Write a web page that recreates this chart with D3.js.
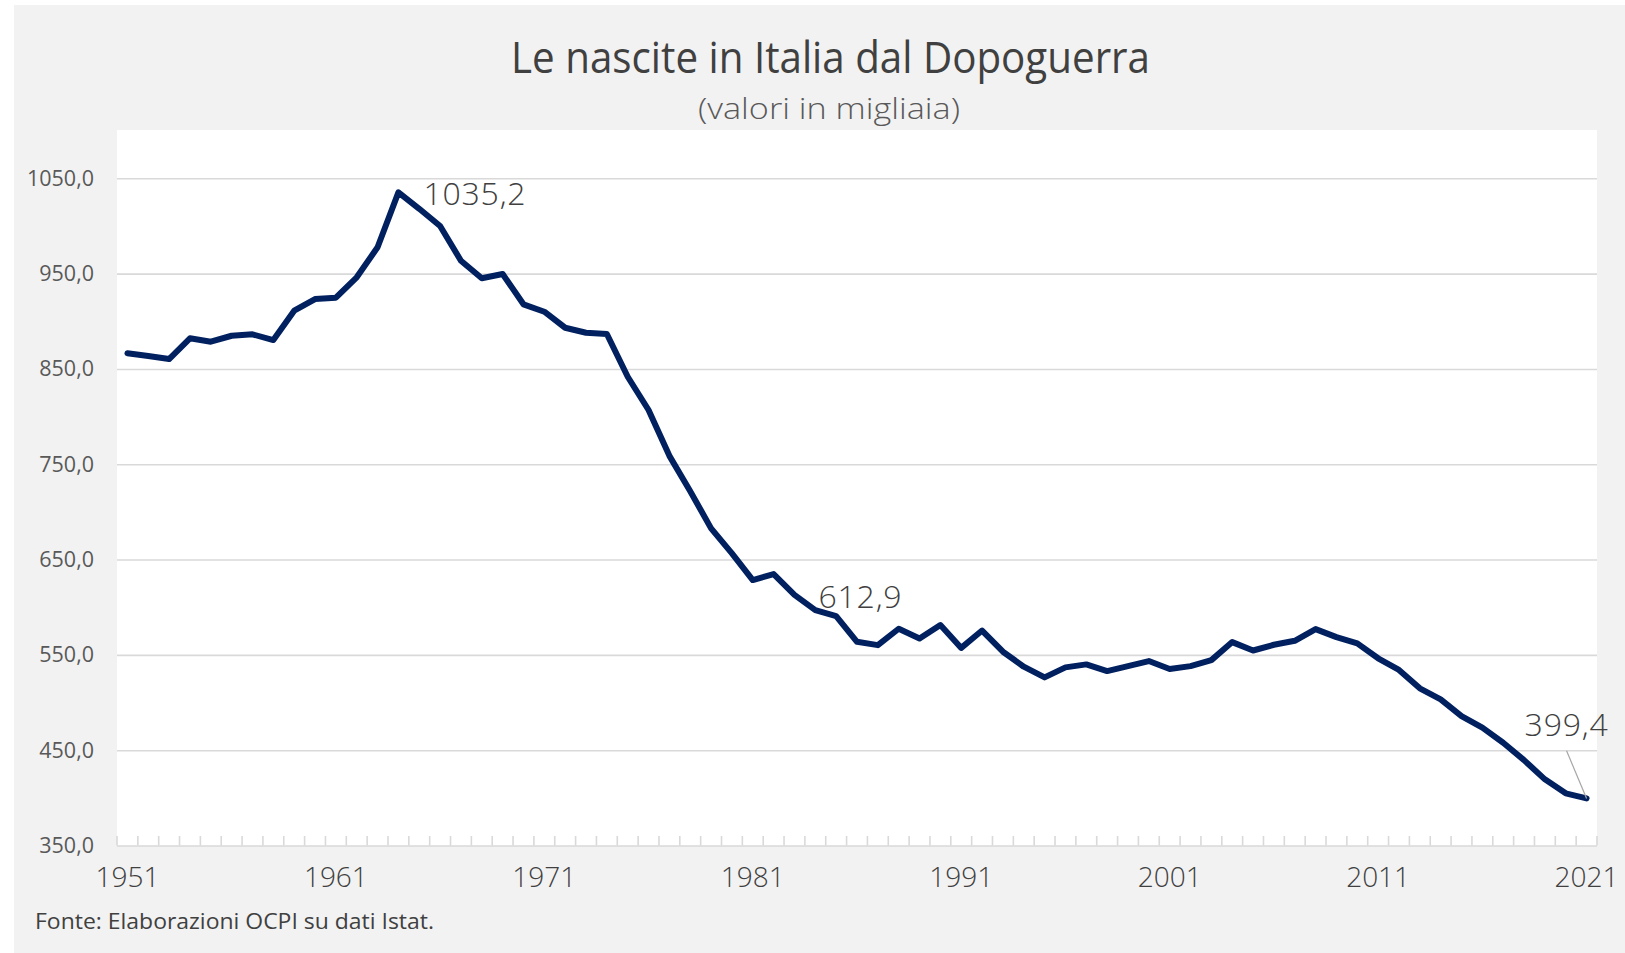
<!DOCTYPE html>
<html>
<head>
<meta charset="utf-8">
<script src="https://cdn.jsdelivr.net/npm/d3@7"></script>
<style>
    body { margin: 0; background: #ffffff; }
    svg { display: block; }
    text { font-family: "Open Sans", "Noto Sans", sans-serif; }
</style>
</head>
<body>
<div id="chart"></div>
<script>
var years = d3.range(1951, 2022);

var births = [
    866.4, 863.5, 860.4, 882.1, 878.6, 884.8, 886.3, 880.3, 911.1, 923.3,
    924.7, 946.1, 977.6, 1035.2, 1018.0, 1000.0, 963.5, 945.1, 949.6, 917.8,
    910.0, 893.2, 888.0, 886.6, 841.8, 806.9, 758.8, 721.7, 682.7, 656.5,
    628.5, 634.8, 612.9, 597.0, 590.7, 563.7, 560.2, 577.4, 567.2, 581.3,
    557.3, 575.5, 553.3, 537.6, 526.4, 536.9, 540.0, 533.0, 538.2, 543.5,
    535.1, 538.2, 544.5, 563.4, 554.6, 560.6, 564.8, 577.0, 568.6, 562.1,
    546.4, 534.2, 514.9, 503.3, 485.8, 473.6, 457.8, 439.6, 419.4, 404.7,
    399.4
];

var x_tick_labels = [1951, 1961, 1971, 1981, 1991, 2001, 2011, 2021];
var y_tick_values = [350, 450, 550, 650, 750, 850, 950, 1050];
var labelled_years = [1964, 1983, 2021];

var title = "Le nascite in Italia dal Dopoguerra";
var subtitle = "(valori in migliaia)";
var source = "Fonte: Elaborazioni OCPI su dati Istat.";

var width = 1625, height = 953;
var plot = {left: 117, right: 1597, top: 130, bottom: 845.5};

var it = d3.formatLocale({decimal: ",", thousands: ".", grouping: [3], currency: ["", "€"]});
var fmt = it.format(".1f");

var data = years.map(function(y, i){ return {year: y, value: births[i]}; });

var svg = d3.select("#chart").append("svg")
    .attr("width", width)
    .attr("height", height);

svg.append("rect")
    .attr("x", 14).attr("y", 5)
    .attr("width", width - 14).attr("height", height - 5)
    .attr("fill", "#f2f2f2");

svg.append("rect")
    .attr("x", plot.left).attr("y", plot.top)
    .attr("width", plot.right - plot.left).attr("height", plot.bottom - plot.top + 0.5)
    .attr("fill", "#ffffff");

var x = d3.scaleBand()
    .domain(years)
    .range([plot.left, plot.right])
    .paddingInner(0).paddingOuter(0);

var y = d3.scaleLinear()
    .domain([350, 1050])
    .range([plot.bottom, 178.3]);

var cx = function(year){ return x(year) + x.bandwidth() / 2; };

// gridlines
var grid = svg.append("g")
    .attr("transform", "translate(" + plot.left + ",0)")
    .call(d3.axisLeft(y).tickValues(y_tick_values).tickSize(-(plot.right - plot.left)).tickFormat(""));
grid.select(".domain").remove();
grid.selectAll("line")
    .attr("stroke", "#d9d9d9")
    .attr("stroke-width", 1.6);

// y labels
var yAxis = svg.append("g")
    .attr("transform", "translate(" + plot.left + ",0)")
    .call(d3.axisLeft(y).tickValues(y_tick_values).tickSize(0).tickPadding(23).tickFormat(fmt));
yAxis.select(".domain").remove();
yAxis.selectAll("text")
    .attr("fill", "#595959")
    .attr("font-size", "21.5px")
    .attr("font-family", "'Open Sans', sans-serif");

// category boundary ticks
var boundaries = years.map(function(yr){ return x(yr); }).concat([plot.right]);
svg.append("g").selectAll("line")
    .data(boundaries)
    .join("line")
    .attr("x1", function(d){ return d; })
    .attr("x2", function(d){ return d; })
    .attr("y1", plot.bottom)
    .attr("y2", plot.bottom - 9.5)
    .attr("stroke", "#d9d9d9")
    .attr("stroke-width", 1.6);

// x labels
var xAxis = svg.append("g")
    .attr("transform", "translate(0," + plot.bottom + ")")
    .call(d3.axisBottom(x).tickValues(x_tick_labels).tickSize(0).tickPadding(22));
xAxis.select(".domain").remove();
xAxis.selectAll("text")
    .attr("fill", "#404040")
    .attr("font-size", "28px")
    .attr("font-weight", 300)
    .attr("font-family", "'Open Sans', sans-serif");

// the series
var line = d3.line()
    .x(function(d){ return cx(d.year); })
    .y(function(d){ return y(d.value); });

svg.append("path")
    .datum(data)
    .attr("d", line)
    .attr("fill", "none")
    .attr("stroke", "#002060")
    .attr("stroke-width", 6)
    .attr("stroke-linejoin", "round")
    .attr("stroke-linecap", "round");

// data labels
var label_offsets = {
    1964: {dx: 25, dy: 12.6, anchor: "start"},
    1983: {dx: 24, dy: 13.4, anchor: "start"},
    2021: {dx: -20, dy: -62.3, anchor: "middle", leader: true}
};

var labelled = data.filter(function(d){ return labelled_years.indexOf(d.year) != -1; });

labelled.forEach(function(d){
    var o = label_offsets[d.year];
    var px = cx(d.year), py = y(d.value);
    if (o.leader){
        svg.append("line")
            .attr("x1", px + o.dx).attr("y1", py - 47.6)
            .attr("x2", px).attr("y2", py)
            .attr("stroke", "#a6a6a6")
            .attr("stroke-width", 1.2);
    }
    svg.append("text")
        .attr("x", px + o.dx)
        .attr("y", py + o.dy)
        .attr("text-anchor", o.anchor)
        .attr("font-size", "32px")
        .attr("font-weight", 300)
        .attr("letter-spacing", "0.8px")
        .attr("fill", "#404040")
        .text(fmt(d.value));
});

// titles
svg.append("text")
    .attr("x", 830.5)
    .attr("y", 72.7)
    .attr("text-anchor", "middle")
    .attr("font-size", "43px")
    .attr("fill", "#404040")
    .attr("textLength", 639)
    .attr("lengthAdjust", "spacingAndGlyphs")
    .text(title);

svg.append("text")
    .attr("x", 829)
    .attr("y", 119.3)
    .attr("text-anchor", "middle")
    .attr("font-size", "29px")
    .attr("font-weight", 300)
    .attr("fill", "#595959")
    .attr("textLength", 262)
    .attr("lengthAdjust", "spacingAndGlyphs")
    .text(subtitle);

svg.append("text")
    .attr("x", 35)
    .attr("y", 929)
    .attr("font-size", "22px")
    .attr("fill", "#404040")
    .attr("textLength", 399)
    .attr("lengthAdjust", "spacingAndGlyphs")
    .text(source);
</script>
</body>
</html>
